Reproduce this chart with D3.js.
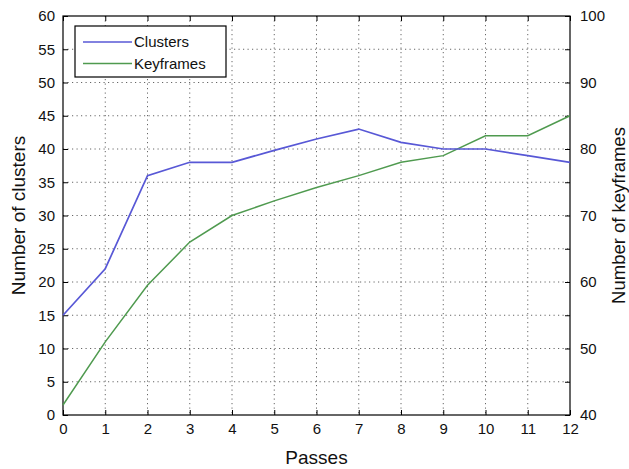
<!DOCTYPE html>
<html>
<head>
<meta charset="utf-8">
<script src="https://cdn.jsdelivr.net/npm/d3@7/dist/d3.min.js"></script>
<style>
  html, body { margin: 0; padding: 0; background: #fff; }
  svg { display: block; font-family: "Liberation Sans", Arial, sans-serif; }
</style>
</head>
<body>
<svg id="chart" width="629" height="469"></svg>
<script>
// Clusters and keyframes per pass
const passes    = [0, 1, 2, 3, 4, 5, 6, 7, 8, 9, 10, 11, 12];
const clusters  = [15, 22, 36, 38, 38, 39.8, 41.5, 43, 41, 40, 40, 39, 38];
const keyframes = [41.5, 51, 59.5, 66, 70, 72.2, 74.2, 76, 78, 79, 82, 82, 85];

const leftTicks  = [0, 5, 10, 15, 20, 25, 30, 35, 40, 45, 50, 55, 60];
const rightTicks = [40, 45, 50, 55, 60, 65, 70, 75, 80, 85, 90, 95, 100];
const seriesNames = ["Clusters", "Keyframes"];
const seriesColors = ["#5858d6", "#4f9a4f"];

const svg = d3.select("#chart");
const L = 63, R = 570, T = 16, B = 415;

const x  = d3.scaleLinear().domain([0, 12]).range([L, R]);
const yL = d3.scaleLinear().domain([0, 60]).range([B, T]);
const yR = d3.scaleLinear().domain([40, 100]).range([B, T]);

// dotted grid
const grid = svg.append("g").attr("stroke", "#666").attr("stroke-width", 1)
  .attr("stroke-dasharray", "1.2,3.3");
grid.selectAll("line.v").data(passes.slice(1, -1)).join("line")
  .attr("x1", d => x(d)).attr("x2", d => x(d)).attr("y1", T).attr("y2", B);
grid.selectAll("line.h").data(leftTicks.slice(1, -1)).join("line")
  .attr("x1", L).attr("x2", R).attr("y1", d => yL(d)).attr("y2", d => yL(d));

// axes (ticks point inward)
function styleAxis(g) {
  g.select(".domain").remove();
  g.selectAll("line").attr("stroke", "#000");
  g.selectAll("text").attr("fill", "#111").style("font-size", "15px");
}

svg.append("g").attr("transform", `translate(0,${B})`)
  .call(d3.axisBottom(x).tickValues(passes).tickSize(-5).tickSizeOuter(0).tickPadding(8)
    .tickFormat(d3.format("d")))
  .call(styleAxis);

svg.append("g").attr("transform", `translate(0,${T})`)
  .call(d3.axisTop(x).tickValues(passes).tickSize(-5).tickSizeOuter(0).tickFormat(""))
  .call(styleAxis);

svg.append("g").attr("transform", `translate(${L},0)`)
  .call(d3.axisLeft(yL).tickValues(leftTicks).tickSize(-5).tickSizeOuter(0).tickPadding(8)
    .tickFormat(d3.format("d")))
  .call(styleAxis);

svg.append("g").attr("transform", `translate(${R},0)`)
  .call(d3.axisRight(yR).tickValues(rightTicks).tickSize(-5).tickSizeOuter(0).tickPadding(10)
    .tickFormat(d => d % 10 === 0 ? d3.format("d")(d) : ""))
  .call(styleAxis);

// frame
svg.append("rect").attr("x", L).attr("y", T).attr("width", R - L).attr("height", B - T)
  .attr("fill", "none").attr("stroke", "#000").attr("stroke-width", 1.2);

// series
const lineL = d3.line().x((d, i) => x(passes[i])).y(d => yL(d));
const lineR = d3.line().x((d, i) => x(passes[i])).y(d => yR(d));

svg.append("path").datum(keyframes).attr("d", lineR)
  .attr("fill", "none").attr("stroke", seriesColors[1]).attr("stroke-width", 1.5);
svg.append("path").datum(clusters).attr("d", lineL)
  .attr("fill", "none").attr("stroke", seriesColors[0]).attr("stroke-width", 1.7);

// legend
const lg = svg.append("g");
lg.append("rect").attr("x", 75).attr("y", 26).attr("width", 151).attr("height", 51)
  .attr("fill", "#fff").attr("stroke", "#000").attr("stroke-width", 1.2);
seriesNames.forEach((name, i) => {
  const yy = 42 + i * 21.5;
  lg.append("line").attr("x1", 83).attr("x2", 132).attr("y1", yy).attr("y2", yy)
    .attr("stroke", seriesColors[i]).attr("stroke-width", 1.5);
  lg.append("text").attr("x", 134).attr("y", yy).attr("dy", "0.36em")
    .style("font-size", "15px").attr("fill", "#111").text(name);
});

// axis titles
svg.append("text").attr("x", (L + R) / 2).attr("y", 464).attr("text-anchor", "middle")
  .style("font-size", "19px").attr("fill", "#111").text("Passes");
svg.append("text").attr("transform", `translate(25,${(T + B) / 2}) rotate(-90)`)
  .attr("text-anchor", "middle").style("font-size", "19px").attr("fill", "#111")
  .text("Number of clusters");
svg.append("text").attr("transform", `translate(625,${(T + B) / 2}) rotate(-90)`)
  .attr("text-anchor", "middle").style("font-size", "18.5px").attr("fill", "#111")
  .text("Number of keyframes");
</script>
</body>
</html>
